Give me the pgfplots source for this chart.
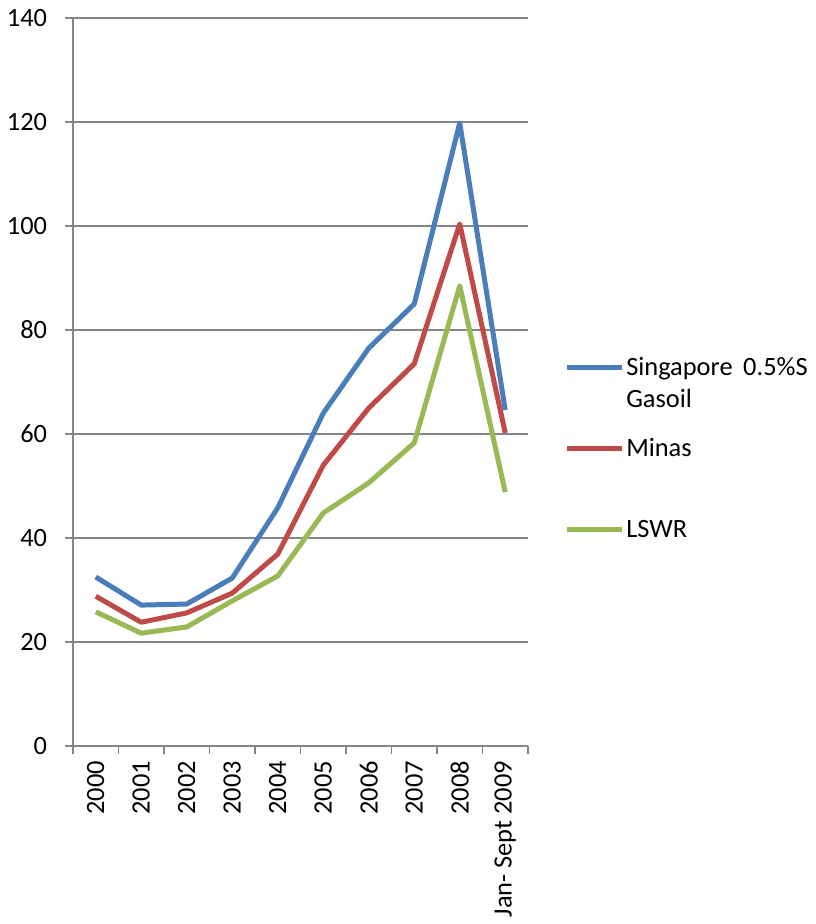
\documentclass[border=0pt]{standalone}
\usepackage{fontspec}
\setmainfont{Carlito}
\usepackage{pgfplots}
\pgfplotsset{compat=1.18}
\definecolor{sgblue}{HTML}{4A7EBB}
\definecolor{mnred}{HTML}{BE4B48}
\definecolor{lsgreen}{HTML}{98B954}
\definecolor{gridgray}{HTML}{868686}

\begin{document}
\begin{tikzpicture}[line join=round, line cap=round]
\useasboundingbox (0,0) rectangle (611.25pt,-693pt);
\begin{axis}[
    at={(54.75pt,-13.5pt)}, anchor=north west,
    scale only axis, width=341.25pt, height=546pt,
    xmin=-0.5, xmax=9.5, ymin=0, ymax=140,
    ytick={0,20,...,140},
    xtick={0,...,9},
    xticklabels={2000,2001,2002,2003,2004,2005,2006,2007,2008,Jan- Sept 2009},
    minor xtick={-0.5,0.5,...,9.5},
    axis x line=bottom, axis y line=left,
    axis line style={-, gridgray, line width=1pt},
    ymajorgrids, grid style={gridgray, line width=1pt},
    tick align=outside, major tick length=6pt, minor tick length=6pt,
    tick style={gridgray, line width=1pt},
    major x tick style={draw=none},
    /pgf/number format/assume math mode=true,
    tick label style={font=\fontsize{19.8pt}{23pt}\selectfont},
    x tick label style={rotate=90, anchor=east},
    xticklabel shift=1.65pt, yticklabel shift=9.9pt,
    legend style={at={(axis description cs:1.0791,0.5762)}, anchor=north west,
      draw=none, fill=none, inner sep=0pt, column sep=1.5pt,
      nodes={inner sep=0pt, text width=170pt, text height=36.375pt, text depth=24.375pt,
        align=left, font=\fontsize{19.8pt}{24pt}\selectfont}},
    legend cell align=left,
    legend image code/.code={\draw[#1, line width=3.75pt] (0pt,0pt) -- (41.25pt,0pt);},
  ]
  \addplot[sgblue, line width=3.75pt] coordinates {
    (0,32.5) (1,27.1) (2,27.3) (3,32.3) (4,45.8) (5,64.0) (6,76.5) (7,85.0) (8,119.8) (9,64.6)
  };
  \addlegendentry{Singapore\hspace{0.4em}0.5\%S\\Gasoil}
  \addplot[mnred, line width=3.75pt] coordinates {
    (0,28.8) (1,23.8) (2,25.6) (3,29.4) (4,36.9) (5,54.0) (6,65.0) (7,73.5) (8,100.4) (9,60.2)
  };
  \addlegendentry{Minas}
  \addplot[lsgreen, line width=3.75pt] coordinates {
    (0,25.8) (1,21.7) (2,22.9) (3,27.9) (4,32.7) (5,44.8) (6,50.6) (7,58.3) (8,88.5) (9,48.8)
  };
  \addlegendentry{LSWR}
\end{axis}
\end{tikzpicture}
\end{document}
